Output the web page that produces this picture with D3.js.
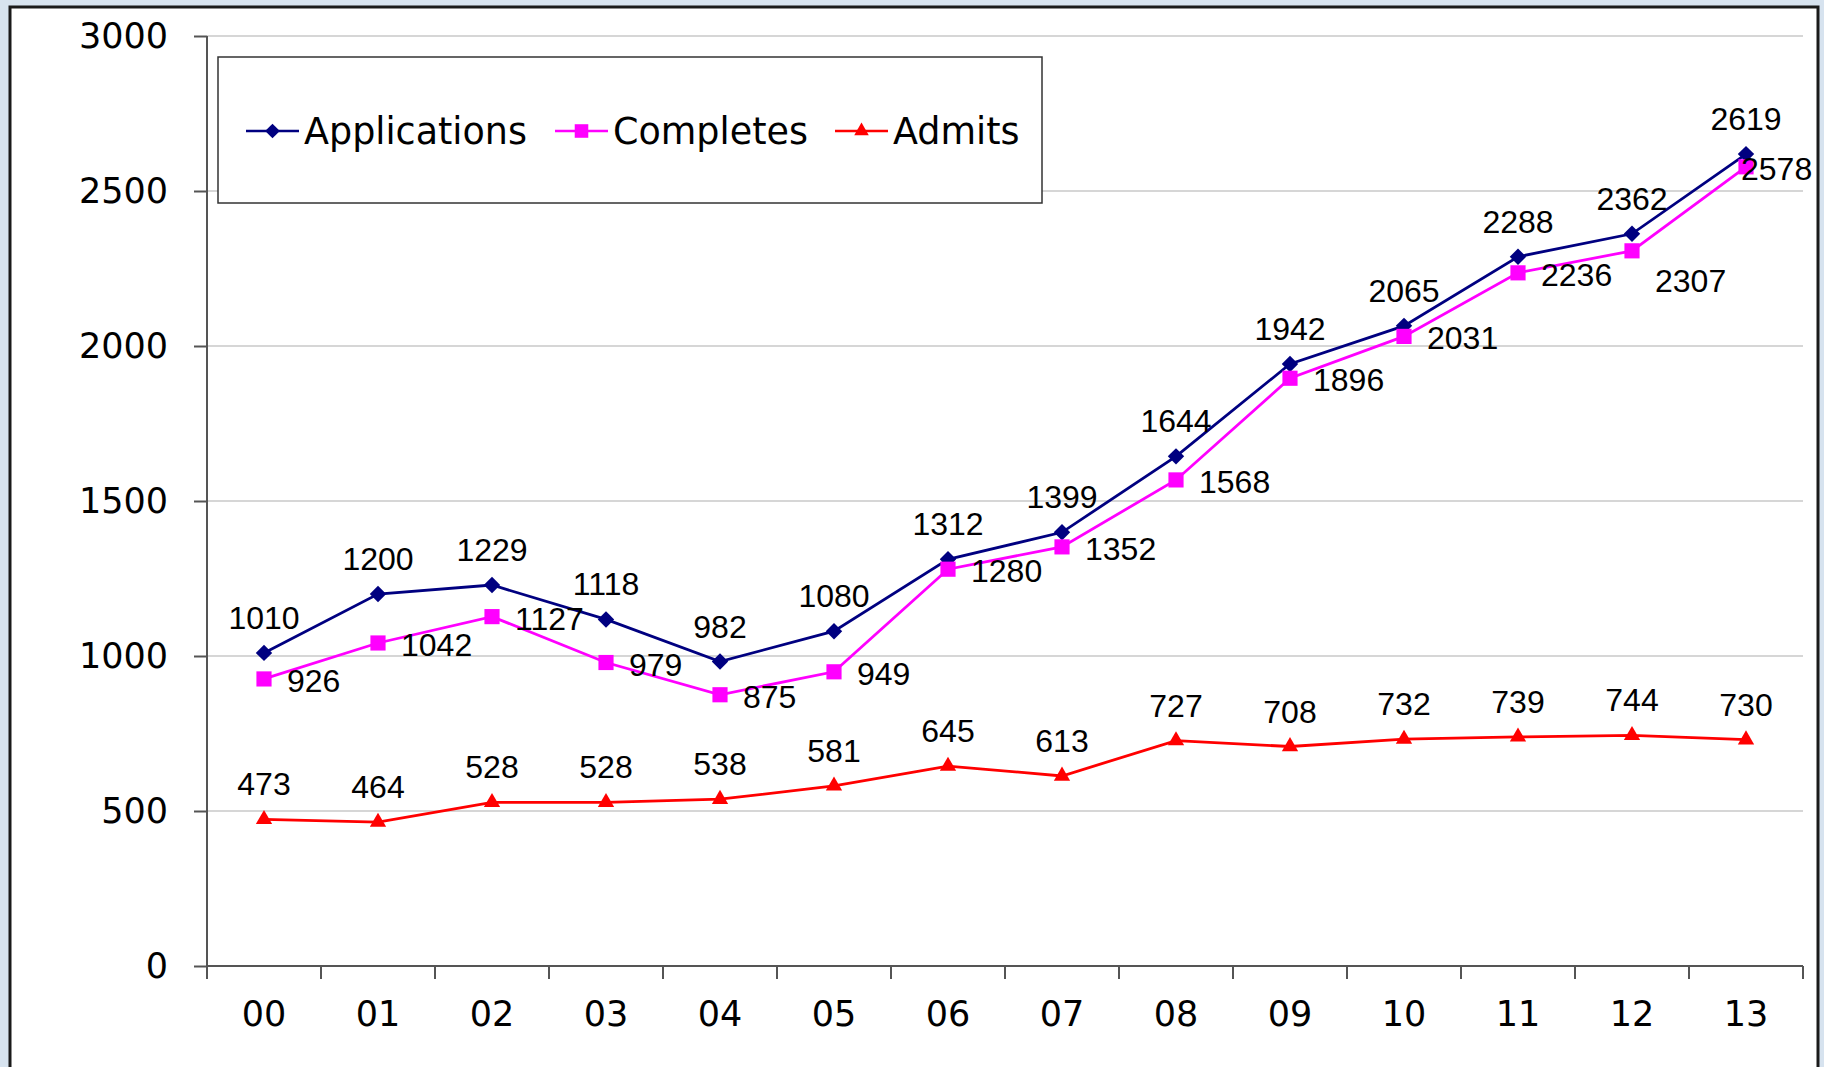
<!DOCTYPE html>
<html>
<head>
<meta charset="utf-8">
<title>Applications, Completes, Admits</title>
<script src="https://cdn.jsdelivr.net/npm/d3@7"></script>
<style>
  html, body { margin: 0; padding: 0; background: #d7e3ef; }
  svg { display: block; }
  .tick text { fill: #000; }
</style>
</head>
<body>
<script>
// chart data
var years = ["00", "01", "02", "03", "04", "05", "06", "07", "08", "09", "10", "11", "12", "13"];
var applications = [1010, 1200, 1229, 1118, 982, 1080, 1312, 1399, 1644, 1942, 2065, 2288, 2362, 2619];
var completes = [926, 1042, 1127, 979, 875, 949, 1280, 1352, 1568, 1896, 2031, 2236, 2307, 2578];
var admits = [473, 464, 528, 528, 538, 581, 645, 613, 727, 708, 732, 739, 744, 730];
var yTicks = [0, 500, 1000, 1500, 2000, 2500, 3000];

var W = 1824, H = 1067;
var plotL = 207, plotR = 1803, plotT = 36, plotB = 966;

var svg = d3.select("body").append("svg")
  .attr("width", W)
  .attr("height", H);

// white panel with dark frame
svg.append("rect")
  .attr("x", 10).attr("y", 7)
  .attr("width", 1808).attr("height", H + 10)
  .attr("fill", "#fff")
  .attr("stroke", "#1a1a1a")
  .attr("stroke-width", 3);

var x = d3.scaleBand().domain(years).range([plotL, plotR]).padding(0);
var y = d3.scaleLinear().domain([0, 3000]).range([plotB, plotT]);

// gridlines
svg.append("g").selectAll("line")
  .data(yTicks.filter(function(d) { return d > 0; }))
  .enter().append("line")
  .attr("x1", plotL).attr("x2", plotR)
  .attr("y1", function(d) { return y(d); })
  .attr("y2", function(d) { return y(d); })
  .attr("stroke", "#c8c8c8")
  .attr("stroke-width", 1.5);

// y axis
var yAxis = svg.append("g")
  .attr("transform", "translate(" + plotL + ",0)")
  .call(d3.axisLeft(y).tickValues(yTicks).tickFormat(d3.format("d")).tickSize(13).tickPadding(26));
yAxis.selectAll("text")
  .style("font-family", "'DejaVu Sans', Verdana, sans-serif")
  .style("font-size", "35px");
yAxis.select(".domain").attr("stroke", "#555").attr("stroke-width", 2)
  .attr("d", "M0," + y(3000) + "V" + (plotB + 13));
yAxis.selectAll(".tick line").attr("stroke", "#555").attr("stroke-width", 2);

// x axis
var xAxis = svg.append("g")
  .attr("transform", "translate(0," + plotB + ")")
  .call(d3.axisBottom(x).tickSize(0).tickPadding(35));
xAxis.selectAll("text")
  .style("font-family", "'DejaVu Sans', Verdana, sans-serif")
  .style("font-size", "35px");
xAxis.select(".domain").attr("stroke", "#555").attr("stroke-width", 2)
  .attr("d", "M" + plotL + ",0H" + plotR);
// tick marks between the categories
xAxis.selectAll("line.bound")
  .data(years.slice(1).map(function(d) { return x(d); }).concat([plotR]))
  .enter().append("line")
  .attr("class", "bound")
  .attr("x1", function(d) { return d; })
  .attr("x2", function(d) { return d; })
  .attr("y1", 0).attr("y2", 13)
  .attr("stroke", "#555").attr("stroke-width", 2);

var cx = function(d, i) { return x(years[i]) + x.bandwidth() / 2; };
var line = d3.line()
  .x(function(d, i) { return cx(d, i); })
  .y(function(d) { return y(d); });

var series = [
  { name: "Applications", values: applications, color: "#000080", symbol: d3.symbolSquare, size: 135, rot: 45, label: "above" },
  { name: "Completes", values: completes, color: "#ff00ff", symbol: d3.symbolSquare, size: 230, rot: 0, label: "right" },
  { name: "Admits", values: admits, color: "#ff0000", symbol: d3.symbolTriangle, size: 115, rot: 0, label: "above" }
];

series.forEach(function(s) {
  var g = svg.append("g");
  g.append("path")
    .datum(s.values)
    .attr("d", line)
    .attr("fill", "none")
    .attr("stroke", s.color)
    .attr("stroke-width", 2.8);
  g.selectAll("path.mark")
    .data(s.values)
    .enter().append("path")
    .attr("class", "mark")
    .attr("d", d3.symbol().type(s.symbol).size(s.size))
    .attr("transform", function(d, i) {
      return "translate(" + cx(d, i) + "," + y(d) + ") rotate(" + s.rot + ")";
    })
    .attr("fill", s.color);
  g.selectAll("text")
    .data(s.values)
    .enter().append("text")
    .attr("x", function(d, i) {
      if (s.label === "above") return cx(d, i);
      // last label is pulled back so it stays inside the frame
      return cx(d, i) + (i === s.values.length - 1 ? -5 : 23);
    })
    .attr("y", function(d, i) {
      if (s.label === "above") return y(d) - 24;
      // the 2307 label sits lower in the original
      return y(d) + 13 + (s.name === "Completes" && i === 12 ? 28 : 0);
    })
    .attr("text-anchor", s.label === "above" ? "middle" : "start")
    .style("font-family", "'Liberation Sans', Arial, sans-serif")
    .style("font-size", "32px")
    .text(function(d) { return d; });
});

// legend
var lg = svg.append("g");
lg.append("rect")
  .attr("x", 218).attr("y", 57)
  .attr("width", 824).attr("height", 146)
  .attr("fill", "#fff")
  .attr("stroke", "#333")
  .attr("stroke-width", 1.5);
var legendX = [246, 555, 835];
series.forEach(function(s, i) {
  var lx = legendX[i], ly = 131;
  lg.append("line")
    .attr("x1", lx).attr("x2", lx + 53)
    .attr("y1", ly).attr("y2", ly)
    .attr("stroke", s.color).attr("stroke-width", 2.6);
  lg.append("path")
    .attr("d", d3.symbol().type(s.symbol).size(s.size * 0.8))
    .attr("transform", "translate(" + (lx + 26.5) + "," + ly + ") rotate(" + s.rot + ")")
    .attr("fill", s.color);
  lg.append("text")
    .attr("x", lx + 58).attr("y", ly + 13)
    .style("font-family", "'DejaVu Sans', Verdana, sans-serif")
    .style("font-size", "36.5px")
    .text(s.name);
});
</script>
</body>
</html>
